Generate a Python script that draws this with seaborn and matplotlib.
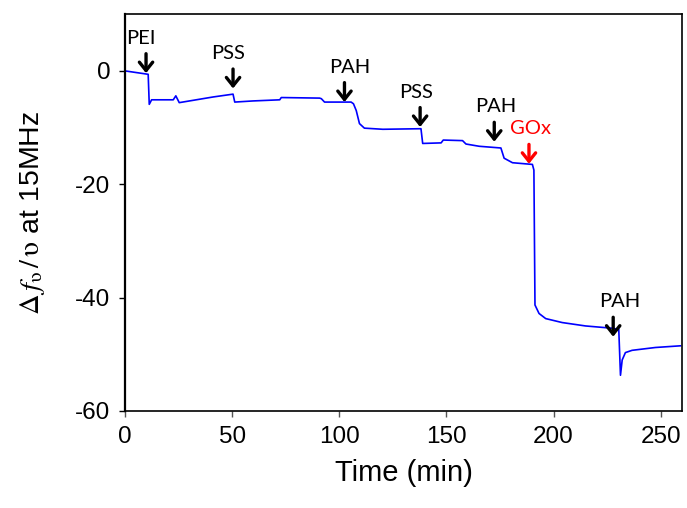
import matplotlib
matplotlib.use('Agg')
import matplotlib.pyplot as plt
import seaborn as sns
import pandas as pd

# --- data ---
time_min = [0, 10.8, 11.3, 12.4, 22.5, 23.7, 25.3, 41.1, 50.4, 51.2, 59.7, 72.2, 72.9,
            90.8, 91.6, 93.1, 105.5, 106.6, 107.9, 109.4, 111.7, 120.3, 138.1, 138.9,
            147.5, 148.5, 157.5, 159.1, 165.3, 175.4, 176.9, 180.8, 190.1, 190.8, 191.3,
            193.2, 196.3, 204.0, 214.9, 227.3, 230.4, 231.2, 232.0, 233.5, 236.6, 247.5, 259.3]
delta_f = [0, -0.6, -5.9, -5.1, -5.1, -4.4, -5.6, -4.6, -4.1, -5.5, -5.3, -5.1, -4.7,
           -4.8, -4.9, -5.5, -5.5, -5.8, -7.0, -9.3, -10.1, -10.3, -10.2, -12.8,
           -12.7, -12.2, -12.3, -12.9, -13.3, -13.6, -15.4, -16.2, -16.5, -17.5, -41.3,
           -42.8, -43.7, -44.4, -45.0, -45.4, -45.6, -53.7, -51.0, -49.7, -49.3, -48.8, -48.5]

# injection markers
step_labels = ['PEI', 'PSS', 'PAH', 'PSS', 'PAH', 'GOx', 'PAH']
step_time = [9.8, 50.4, 102.4, 137.7, 172.3, 188.5, 227.8]
step_value = [-0.4, -3.1, -5.5, -9.9, -12.5, -16.4, -46.9]
step_colors = ['black', 'black', 'black', 'black', 'black', 'red', 'black']
label_nudge = [-4, -3.5, 4, -3, 1, 1, 5]  # horizontal text nudge (points)

df = pd.DataFrame({'Time': time_min, 'Delta_f': delta_f})

sns.set_style('ticks')
plt.rcParams['font.family'] = ['Liberation Sans', 'DejaVu Sans']
plt.rcParams['axes.unicode_minus'] = False
plt.rcParams['mathtext.fontset'] = 'stix'
plt.rcParams['text.color'] = 'black'
plt.rcParams['axes.labelcolor'] = 'black'
plt.rcParams['xtick.color'] = 'black'
plt.rcParams['ytick.color'] = 'black'

fig = plt.figure(figsize=(6.87, 5.08), dpi=100)
ax = fig.add_axes([0.182, 0.191, 0.811, 0.781])

sns.lineplot(data=df, x='Time', y='Delta_f', ax=ax, color='#0000FF', lw=1.2,
             sort=False, estimator=None)

ax.set_xlim(0, 260)
ax.set_ylim(-60, 10)
ax.set_xticks([0, 50, 100, 150, 200, 250])
ax.set_yticks([-60, -40, -20, 0])
ax.tick_params(axis='both', labelsize=17.5, length=4.5, width=1, direction='out', pad=6)
ax.tick_params(axis='x', color='#555555')

for side in ['top', 'right', 'bottom', 'left']:
    ax.spines[side].set_visible(True)
    ax.spines[side].set_color('black')
    ax.spines[side].set_linewidth(1.2)
ax.spines['left'].set_linewidth(1.6)

ax.set_xlabel('Time (min)', fontsize=21, labelpad=8)
ax.set_ylabel(r'$\Delta\,\mathbf{\mathit{f}}_{\mathrm{\upsilon}}\,/\,\mathrm{\upsilon}$ at 15MHz',
              fontsize=20.5, labelpad=20)

# arrows and labels for each deposition step
for lab, t, v, c, dx in zip(step_labels, step_time, step_value, step_colors, label_nudge):
    ax.annotate('', xy=(t, v), xytext=(0, 14), textcoords='offset points',
                arrowprops=dict(arrowstyle='->, head_length=0.5, head_width=0.4',
                                lw=2.4, color=c, shrinkA=0, shrinkB=0, mutation_scale=12))
    ax.annotate(lab, xy=(t, v), xytext=(dx, 19), textcoords='offset points',
                ha='center', va='bottom', fontsize=14.5, color=c, family=['Lato', 'DejaVu Sans'])

fig.savefig('out.png', dpi=100)
